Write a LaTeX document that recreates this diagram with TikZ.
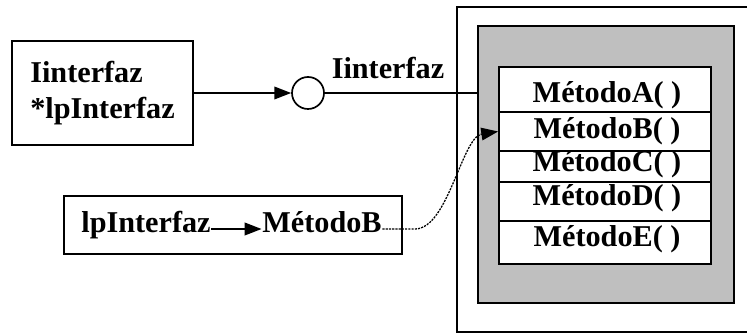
\documentclass[tikz,border=0pt]{standalone}
\usepackage{fontspec}
\setmainfont{Liberation Serif}
\usetikzlibrary{arrows.meta,calc}

\begin{document}
\begin{tikzpicture}[x=0.025cm,y=-0.025cm,line width=1.2pt,
  box/.style={draw,rectangle,inner sep=0pt},
  lbl/.style={font=\fontsize{21.5}{26.2}\selectfont\bfseries,inner sep=0pt},
  word/.style={lbl,text height=0.7em,text depth=0.22em},
  tip/.style={-{Triangle[length=12pt,width=9pt]}}]
\clip (0,0) rectangle (747,333);
\draw[overlay] (760,7) -- (457,7) -- (457,332) -- (760,332);
\node[box,fill=black!25,minimum width=6.4cm,minimum height=6.925cm] (OBJ) at (606,164.5) {};
\foreach \n/\t/\b in {A/67/112,B/112/151,C/151/182,D/182/221,E/221/264} {
  \node[box,fill=white,minimum width=5.3cm,minimum height={(\b-\t)*0.025cm}] (R\n) at (605,{(\t+\b)/2}) {};
}
\foreach \n/\ty in {A/99,B/135,C/168,D/202,E/243} {
  \node[word] (M\n) at (607,\ty) {Método\n( )};
}
\node[box,lbl,align=left,minimum width=4.525cm,minimum height=2.6cm] (PTR) at (102.5,93) {Iinterfaz\\*lpInterfaz};
\node[draw,circle,minimum size=0.8cm,inner sep=0pt] (IF) at (308,93) {};
\draw[tip] (PTR) -- (IF);
\draw (IF.east) -- (IF.east -| OBJ.west);
\node[word] (IFL) at (388,75) {Iinterfaz};
\node[box,minimum width=8.45cm,minimum height=1.45cm] (CALL) at (233,225) {};
\node[word] (LP) at (146,229) {lpInterfaz};
\node[word] (MB) at (322,229) {MétodoB};
\draw[tip] (LP) -- (MB);
\coordinate (BEND) at (415,229);
\draw[tip,line width=0.9pt,dash pattern=on 1.5pt off 0.8pt] (MB) -- (BEND) .. controls (448,229) and (462,137) .. (RB.west);
\end{tikzpicture}
\end{document}
